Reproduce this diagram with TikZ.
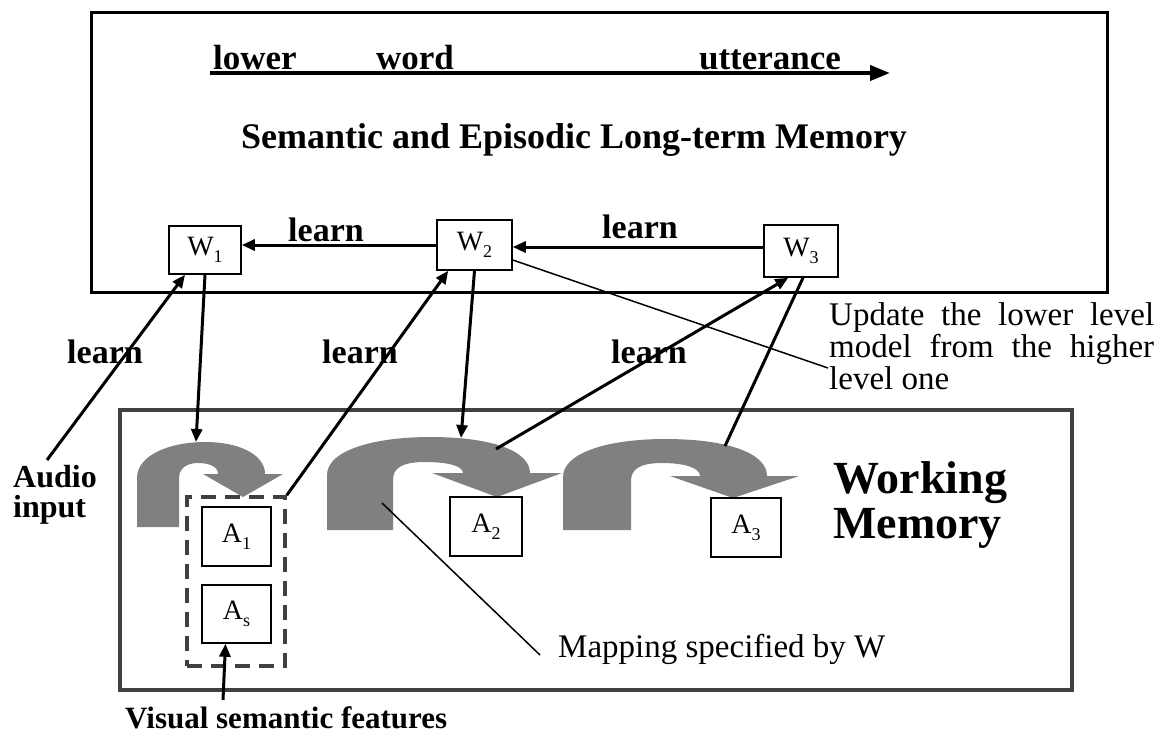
\documentclass[tikz,border=0pt]{standalone}
\usepackage{fontspec}
\setmainfont{Liberation Serif}
\usetikzlibrary{arrows.meta}

\definecolor{arcgray}{HTML}{808080}
\definecolor{framegray}{HTML}{404040}

% box label with a small, lowered index
\newcommand{\boxlabel}[2]{{\fontsize{28}{28}\selectfont #1}{\fontsize{18}{18}\selectfont\raisebox{-7pt}{#2}}}

\begin{document}
\begin{tikzpicture}[
    x = 1pt,
    y = -1pt,
    >={Triangle[length=13pt,width=11pt]},
    wbox/.style = {draw, line width=1.5pt, inner sep=0pt},
    conn/.style = {line width=3pt},
    leader/.style = {line width=1.5pt},
    boldtext/.style = {font=\fontsize{34}{34}\selectfont\bfseries, inner sep=0pt},
    plaintext/.style = {font=\fontsize{33}{32}\selectfont, inner sep=0pt},
    ]

\useasboundingbox (0,0) rectangle (1171,740);

% frames
\draw[line width=3pt] (91,12) rectangle (1107,292);
\draw[framegray, line width=3.5pt] (120,410) rectangle (1072,690);

% scale arrow and title
\coordinate (scale_start) at (210,73);
\coordinate (scale_end) at (890,73);
\draw[line width=4pt, -{Triangle[length=20pt,width=15pt]}] (scale_start) -- (scale_end);
\node[boldtext, font=\fontsize{35}{35}\selectfont\bfseries, anchor=base west] (lower) at (213,69) {lower};
\node[boldtext, font=\fontsize{35}{35}\selectfont\bfseries, anchor=base] (word) at (415,69) {word};
\node[boldtext, font=\fontsize{35}{35}\selectfont\bfseries, anchor=base] (utterance) at (770,69) {utterance};
\node[boldtext, font=\fontsize{36}{36}\selectfont\bfseries, anchor=base] (ltm) at (574,148) {Semantic and Episodic Long-term Memory};

% mapping arrows in working memory
\fill[arcgray] (137,527) -- (137,478) .. controls (137,455) and (170,442) .. (205,442)
    .. controls (240,442) and (265,455) .. (265,474) -- (283,474) -- (243,497) -- (203,474)
    -- (218,474) .. controls (218,467) and (210,463) .. (198,463)
    .. controls (186,463) and (179,469) .. (179,478) -- (179,527) -- cycle;
\fill[arcgray] (327,530) -- (327,475) .. controls (327,450) and (375,437) .. (430,437)
    .. controls (495,437) and (530,452) .. (530,473) -- (562,473) -- (497,497) -- (432,473)
    -- (463,473) .. controls (463,466) and (448,462) .. (425,462)
    .. controls (402,462) and (393,468) .. (393,480) -- (393,530) -- cycle;
\fill[arcgray] (563,530) -- (563,477) .. controls (563,452) and (610,439) .. (665,439)
    .. controls (730,439) and (767,454) .. (767,476) -- (799,476) -- (733,498) -- (670,476)
    -- (700,476) .. controls (700,468) and (685,463) .. (662,463)
    .. controls (640,463) and (631,469) .. (631,481) -- (631,530) -- cycle;

% word models
\node[wbox, minimum width=72pt, minimum height=48pt] (W_1) at (205,250) {\boxlabel{W}{1}};
\node[wbox, minimum width=75pt, minimum height=50pt] (W_2) at (474.5,245) {\boxlabel{W}{2}};
\node[wbox, minimum width=74pt, minimum height=52pt] (W_3) at (801,251) {\boxlabel{W}{3}};

% working memory contents
\node[draw=framegray, line width=3.5pt, dash pattern=on 15pt off 9pt,
      minimum width=98pt, minimum height=169pt, inner sep=0pt] (visual_group) at (236,581.5) {};
\node[wbox, minimum width=69pt, minimum height=59pt] (A_1) at (236.5,536.5) {\boxlabel{A}{1}};
\node[wbox, minimum width=69pt, minimum height=58pt] (A_s) at (236.5,614) {\boxlabel{A}{s}};
\node[wbox, minimum width=72pt, minimum height=59pt] (A_2) at (486,526.5) {\boxlabel{A}{2}};
\node[wbox, minimum width=70pt, minimum height=59pt] (A_3) at (746,527.5) {\boxlabel{A}{3}};

% labels
\node[boldtext, anchor=base] (learn_12) at (326,241) {learn};
\node[boldtext, anchor=base] (learn_23) at (640,238) {learn};
\node[boldtext, anchor=base] (learn_a) at (105,363) {learn};
\node[boldtext, anchor=base] (learn_b) at (360,363) {learn};
\node[boldtext, anchor=base] (learn_c) at (649,363) {learn};
\node[boldtext, font=\fontsize{32}{30}\selectfont\bfseries, anchor=base west] (audio) at (13,487)
    {\vtop{\hbox{Audio}\hbox{input}}};
\node[boldtext, font=\fontsize{46}{45}\selectfont\bfseries, anchor=base west] (wm) at (833,493)
    {\vtop{\hbox{Working}\hbox{Memory}}};
\node[boldtext, font=\fontsize{31}{31}\selectfont\bfseries, anchor=base west] (visual) at (125,728)
    {Visual semantic features};
\node[plaintext, anchor=base west] (update_note) at (829,325)
    {\vtop{\hbox to 325pt{Update\hfill the\hfill lower\hfill level}
           \hbox to 325pt{model\hfill from\hfill the\hfill higher}
           \hbox{level one}}};
\node[plaintext, anchor=base west] (mapping_note) at (558,657) {Mapping specified by W};

% learning and retrieval connectors
\draw[conn, ->] (W_2.west) -- (W_2.west -| W_1.east);
\draw[conn, ->] ([yshift=4pt]W_3.west) -- ([yshift=4pt]W_3.west -| W_2.east);

\coordinate (audio_tail) at (47,460);
\coordinate (arc_1_top) at (196,442);
\coordinate (arc_2_top) at (461,438);
\coordinate (arc_2_back) at (496,449);
\coordinate (arc_3_back) at (725,446);
\coordinate (arc_2_leg) at (382,503);
\coordinate (mapping_end) at (540,655);
\coordinate (update_end) at (828,368);
\coordinate (visual_tail) at (223,700);

\draw[conn, ->] (audio_tail) -- ([xshift=-20pt]W_1.south);
\draw[conn, ->] (W_1.south) -- (arc_1_top);
\draw[conn, ->] (visual_group.north east) -- ([xshift=12pt]W_2.south west);
\draw[conn, ->] (W_2.south) -- (arc_2_top);
\draw[conn, ->] (arc_2_back) -- ([xshift=25pt]W_3.south west);
\draw[conn] (arc_3_back) -- ([xshift=2pt]W_3.south);
\draw[conn, ->] (visual_tail) -- ([xshift=-11pt]A_s.south);

% leader lines
\draw[leader] ([yshift=-15pt]W_2.east) -- (update_end);
\draw[leader] (arc_2_leg) -- (mapping_end);

\end{tikzpicture}
\end{document}
